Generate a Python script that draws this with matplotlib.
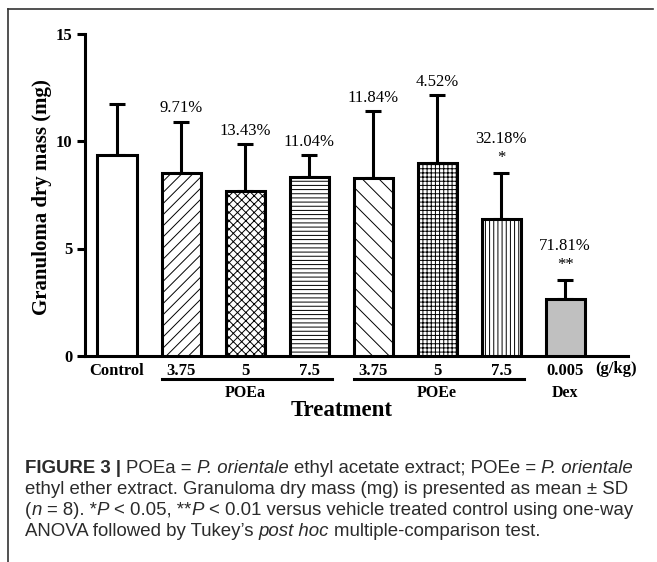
import matplotlib
matplotlib.use("Agg")
import matplotlib.pyplot as plt
from matplotlib.lines import Line2D
import matplotlib.transforms as mtransforms

# ---------------- data ----------------
categories = ['Control', '3.75', '5', '7.5', '3.75', '5', '7.5', '0.005']
means = [9.36, 8.50, 7.69, 8.34, 8.26, 8.96, 6.37, 2.65]
sds = [2.36, 2.40, 2.17, 1.01, 3.14, 3.18, 2.13, 0.88]
pct_labels = ['', '9.71%', '13.43%', '11.04%', '11.84%', '4.52%', '32.18%', '71.81%']
stars = ['', '', '', '', '', '', '*', '**']
hatches = ['', '///', 'xxxx', '----', '\\\\', '++++', '||||', '']
fills = ['white', 'white', 'white', 'white', 'white', 'white', 'white', '#c0c0c0']
groups = [('POEa', 1, 3), ('POEe', 4, 6), ('Dex', 7, 7)]
yticks = [0, 5, 10, 15]

W, H = 657, 562
SERIF = 'Liberation Serif'
SANS = 'Liberation Sans'
plt.rcParams['hatch.linewidth'] = 0.7

fig = plt.figure(figsize=(W / 100, H / 100), dpi=100)
fig.patch.set_facecolor('white')

# axes placement (pixel-based)
x0_px, x1_px = 85, 628
y0_px, y1_px = 356, 33.5
ax = fig.add_axes([x0_px / W, 1 - y0_px / H, (x1_px - x0_px) / W, (y0_px - y1_px) / H])

xs = list(range(len(categories)))
ax.bar(xs, means, width=0.61, color=fills, edgecolor='black', linewidth=2.2, zorder=3)
for b, h in zip(ax.patches, hatches):
    if h:
        b.set_hatch(h)
ax.errorbar(xs, means, yerr=[[0] * len(sds), sds], fmt='none', ecolor='black',
            elinewidth=2.2, capsize=5.5, capthick=2.2, zorder=2)

ax.set_xlim(-0.5, 7.98)
ax.set_ylim(0, 15)
ax.set_yticks(yticks)
ax.set_yticklabels([str(t) for t in yticks], fontfamily=SERIF, fontweight='bold', fontsize=12)
ax.set_xticks(xs)
ax.set_xticklabels(categories, fontfamily=SERIF, fontweight='bold', fontsize=12)
ax.tick_params(axis='x', length=0, pad=5)
ax.tick_params(axis='y', length=6, width=2.2, pad=3)
for s in ['top', 'right']:
    ax.spines[s].set_visible(False)
for s in ['left', 'bottom']:
    ax.spines[s].set_linewidth(2.2)

# annotations above bars
for i, (m, sd, p, st) in enumerate(zip(means, sds, pct_labels, stars)):
    top = m + sd
    if st:
        ax.annotate(st, (i, top), xytext=(0, 11), textcoords='offset points',
                    ha='center', va='center', fontfamily=SERIF, fontsize=12)
        ax.annotate(p, (i, top), xytext=(0, 24.5), textcoords='offset points',
                    ha='center', va='center', fontfamily=SERIF, fontsize=12)
    elif p:
        ax.annotate(p, (i, top), xytext=(0, 9.5), textcoords='offset points',
                    ha='center', va='center', fontfamily=SERIF, fontsize=12)

# group lines & labels
trans = mtransforms.blended_transform_factory(ax.transData, ax.transAxes)
for name, a, b in groups:
    if b > a:
        ax.add_line(Line2D([a - 0.3, b + 0.36], [-0.0713, -0.0713], transform=trans,
                           color='black', linewidth=2.2, clip_on=False))
    ax.text((a + b) / 2, -0.1147, name, transform=trans, ha='center', va='center',
            fontfamily=SERIF, fontweight='bold', fontsize=11.5)
ax.text(7.8, -0.04, '(g/kg)', transform=trans, ha='center', va='center',
        fontfamily=SERIF, fontweight='bold', fontsize=12)

fig.text(342 / W, 1 - 411 / H, 'Treatment', ha='center', va='center',
         fontfamily=SERIF, fontweight='bold', fontsize=16.5)
fig.text(42 / W, 1 - 197 / H, 'Granuloma dry mass (mg)', rotation=90,
         ha='center', va='center', fontfamily=SERIF, fontweight='bold', fontsize=15)

# border (top and left)
fig.add_artist(Line2D([8 / W, 8 / W], [1 - 9 / H, 0], transform=fig.transFigure,
                      color='#333333', linewidth=1.2))
fig.add_artist(Line2D([8 / W, 653 / W], [1 - 9 / H, 1 - 9 / H], transform=fig.transFigure,
                      color='#333333', linewidth=1.2))

# caption
cap_color = '#2b2b2b'
cap_size = 13.4
renderer = fig.canvas.get_renderer()


def text_w(s, weight='normal', style='normal'):
    t = fig.text(0, 0, s, fontsize=cap_size, fontfamily=SANS, fontweight=weight, fontstyle=style)
    w = t.get_window_extent(renderer).width
    t.remove()
    return w


space_w = text_w('x x') - text_w('xx')


def draw_line(x_px, base_px, pieces):
    x = x_px
    for s, kind in pieces:
        weight = 'bold' if kind == 'b' else 'normal'
        style = 'italic' if kind == 'i' else 'normal'
        lead = len(s) - len(s.lstrip(' '))
        trail = len(s) - len(s.rstrip(' '))
        core = s.strip(' ')
        x += lead * space_w
        if core:
            t = fig.text(x / W, 1 - base_px / H, core, fontsize=cap_size, fontfamily=SANS,
                         fontweight=weight, fontstyle=style, color=cap_color,
                         ha='left', va='baseline')
            x += t.get_window_extent(renderer).width
        x += trail * space_w


caption_lines = [
    [('FIGURE 3 | ', 'b'), ('POEa = ', 'n'), ('P. orientale', 'i'),
     (' ethyl acetate extract; POEe = ', 'n'), ('P. orientale', 'i')],
    [('ethyl ether extract. Granuloma dry mass (mg) is presented as mean \u00b1 SD', 'n')],
    [('(', 'n'), ('n', 'i'), (' = 8). *', 'n'), ('P', 'i'), (' < 0.05, **', 'n'), ('P', 'i'),
     (' < 0.01 versus vehicle treated control using one-way', 'n')],
    [('ANOVA followed by Tukey\u2019s ', 'n'), ('post hoc', 'i'), (' multiple-comparison test.', 'n')],
]
baselines = [473.3, 494.1, 514.9, 535.7]
for pieces, bl in zip(caption_lines, baselines):
    draw_line(25, bl, pieces)

fig.savefig('out.png', dpi=100, facecolor='white')
